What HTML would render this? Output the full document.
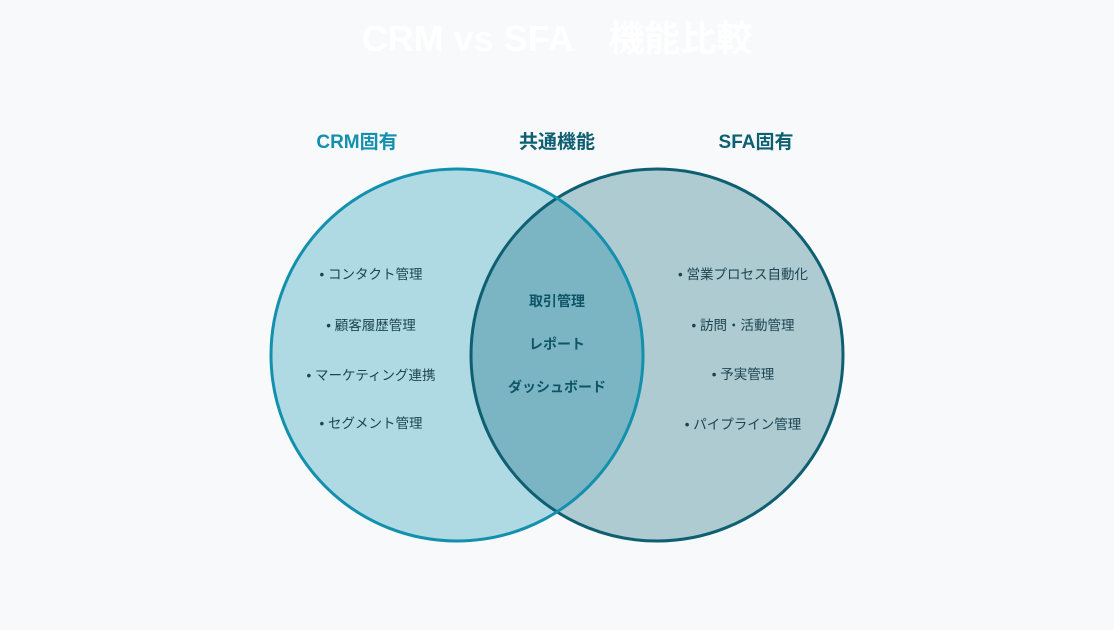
<!DOCTYPE html>
<html><head><meta charset="utf-8"><style>
body{margin:0;background:#f7f9fb;}
svg{display:block}
text{font-family:"Liberation Sans","Noto Sans CJK JP",sans-serif;}
</style></head><body>
<svg width="1114" height="630" viewBox="0 0 1114 630">
<rect width="1114" height="630" fill="#f7f9fb"/>
<text x="557" y="51" text-anchor="middle" font-size="36" font-weight="bold" fill="#ffffff">CRM vs SFA　機能比較</text>
<text x="357" y="148" text-anchor="middle" font-size="19" font-weight="bold" fill="#1390ad">CRM固有</text>
<text x="557" y="148" text-anchor="middle" font-size="19" font-weight="bold" fill="#0e5f72">共通機能</text>
<text x="756" y="148" text-anchor="middle" font-size="19" font-weight="bold" fill="#0e5f72">SFA固有</text>
<defs><clipPath id="cl"><circle cx="457" cy="355" r="186"/></clipPath></defs>
<circle cx="457" cy="355" r="186" fill="#b0dae3"/>
<circle cx="657" cy="355" r="186" fill="#aecbd1"/>
<circle cx="657" cy="355" r="186" fill="#7bb4c3" clip-path="url(#cl)"/>
<circle cx="657" cy="355" r="186" fill="none" stroke="#0e5f72" stroke-width="3"/>
<circle cx="457" cy="355" r="186" fill="none" stroke="#1390ad" stroke-width="3"/>
<g font-size="13.5" fill="#1d4450" text-anchor="middle">
<text x="371" y="279">• コンタクト管理</text>
<text x="371" y="330">• 顧客履歴管理</text>
<text x="371" y="380">• マーケティング連携</text>
<text x="371" y="428">• セグメント管理</text>
<text x="743" y="279">• 営業プロセス自動化</text>
<text x="743" y="330">• 訪問・活動管理</text>
<text x="743" y="379">• 予実管理</text>
<text x="743" y="429">• パイプライン管理</text>
</g>
<g font-size="14" font-weight="bold" fill="#0e5565" text-anchor="middle">
<text x="557" y="306">取引管理</text>
<text x="557" y="349">レポート</text>
<text x="557" y="392">ダッシュボード</text>
</g>
</svg>
</body></html>
